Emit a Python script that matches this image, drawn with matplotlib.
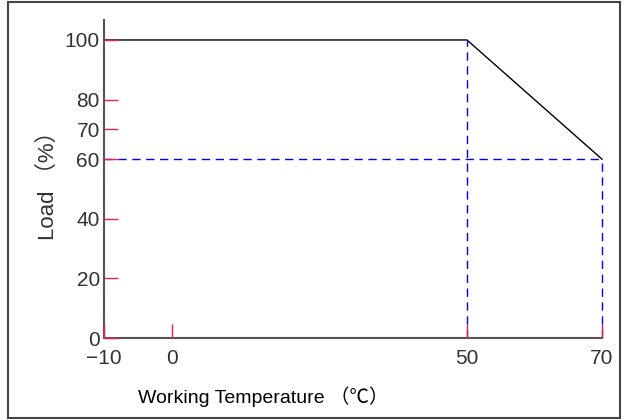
import numpy as np
import matplotlib
matplotlib.use("Agg")
import matplotlib.pyplot as plt
from matplotlib.patches import Rectangle

# derating curve
temp = [-10, 50, 70]
load = [100, 100, 60]

x_ticks = [-10, 0, 50, 70]
x_labels = ['\u221210', '0', '50', '70']
y_ticks = [0, 20, 40, 60, 70, 80, 100]

# the original axis is not drawn to a uniform scale
x_breaks = [-10, 0, 50, 70]
x_pos = [0, 68, 363, 498]

def fwd(x):
    return np.interp(x, x_breaks, x_pos)

def inv(p):
    return np.interp(p, x_pos, x_breaks)

fonts = ['Liberation Sans', 'Noto Sans CJK SC', 'DejaVu Sans']
plt.rcParams['font.family'] = fonts

fig = plt.figure(figsize=(6.24, 4.2), dpi=100)
fig.patches.append(Rectangle((8/624, 2/420), 612/624, 416/420, transform=fig.transFigure,
                             fill=False, edgecolor='#444444', linewidth=1.5))

ax = fig.add_axes([104/624, 82/420, 498/624, 318/420])
ax.set_xscale('function', functions=(fwd, inv))
ax.set_xlim(-10, 70)
ax.set_ylim(0, 106.7)
ax.set_axisbelow(False)

ax.plot(temp, load, color='black', linewidth=1, clip_on=False)
dash = (0, (6, 4))
ax.plot([50, 50], [0, 100], color='blue', linestyle=dash, linewidth=1, clip_on=False)
ax.plot([-10, 70], [60, 60], color='blue', linestyle=dash, linewidth=1, clip_on=False)
ax.plot([70, 70], [0, 60], color='blue', linestyle=dash, linewidth=1, clip_on=False)

for s in ['top', 'right']:
    ax.spines[s].set_visible(False)
for s in ['left', 'bottom']:
    ax.spines[s].set_color('#555555')
    ax.spines[s].set_linewidth(1.5)

ax.set_xticks(x_ticks)
ax.set_xticklabels(x_labels)
ax.set_yticks(y_ticks)
ax.set_yticklabels([str(v) for v in y_ticks])
ax.tick_params(axis='both', direction='in', length=10, width=1, color='#e8205a',
               labelsize=15, labelcolor='#333333')
ax.tick_params(axis='x', pad=8)
ax.tick_params(axis='y', pad=3)

fig.text(48/624, 1 - 180/420, 'Load （%）', fontsize=16, rotation=90,
         ha='center', va='center', color='#333333', family=fonts)
fig.text(138/624, 1 - 397/420, 'Working Temperature （℃）', fontsize=14,
         ha='left', va='center', family=fonts)

fig.savefig('out.png', dpi=100)
